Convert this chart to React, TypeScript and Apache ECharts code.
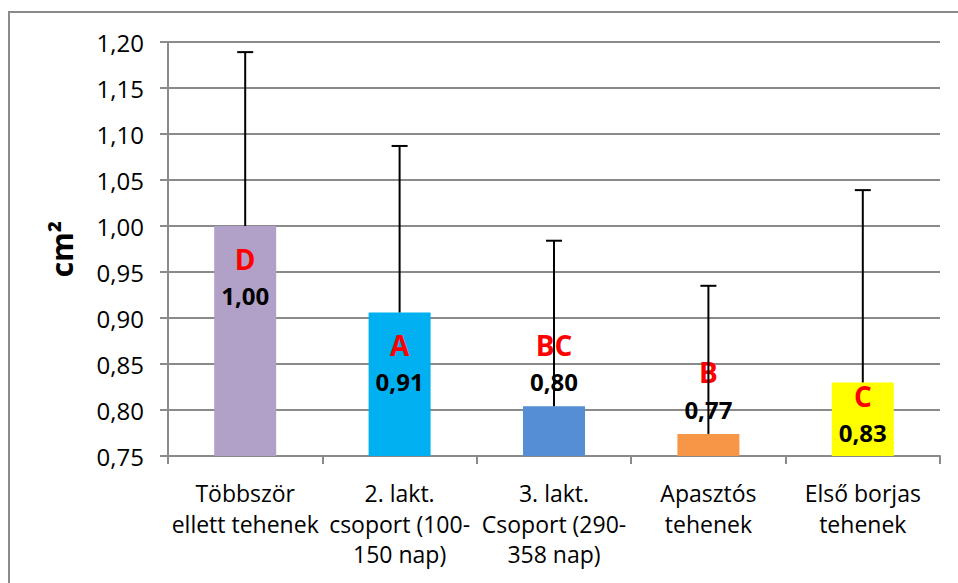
import React, { useEffect, useRef } from "react";
import * as echarts from "echarts";

const categories = [
  "Többször\nellett tehenek",
  "2. lakt.\ncsoport (100-\n150 nap)",
  "3. lakt.\nCsoport (290-\n358 nap)",
  "Apasztós\ntehenek",
  "Első borjas\ntehenek",
];
const values = [1.0, 0.906, 0.804, 0.774, 0.83];
const errorTops = [1.189, 1.087, 0.984, 0.935, 1.039];
const letters = ["D", "A", "BC", "B", "C"];
const valueLabels = ["1,00", "0,91", "0,80", "0,77", "0,83"];
const colors = ["#B1A0C7", "#00B0F0", "#558ED5", "#F79646", "#FFFF00"];
const labelAbove = [false, false, true, true, false];
const labelDistance = [14, 14, 6, 6, -5];

const FONT = "'Open Sans', sans-serif";

export default function App() {
  const ref = useRef<HTMLDivElement>(null);
  useEffect(() => {
    if (!ref.current) return;
    const chart = echarts.init(ref.current, null, { renderer: "svg" });
    const grey = "#8a8a8a";
    chart.setOption({
      animation: false,
      backgroundColor: "#fff",
      graphic: [
        {
          type: "rect",
          shape: { x: 9, y: 12, width: 970, height: 620 },
          style: { fill: "none", stroke: grey, lineWidth: 2 },
          silent: true,
        },
      ],
      grid: { left: 168, right: 18, top: 42, bottom: 127 },
      xAxis: {
        type: "category",
        data: categories,
        axisLine: { lineStyle: { color: grey, width: 2 } },
        axisTick: { show: true, length: 8, lineStyle: { color: grey, width: 2 } },
        axisLabel: {
          interval: 0,
          color: "#000",
          fontFamily: FONT,
          fontSize: 23,
          lineHeight: 30.5,
          margin: 22,
        },
      },
      yAxis: {
        type: "value",
        min: 0.75,
        max: 1.2,
        interval: 0.05,
        name: "cm²",
        nameLocation: "middle",
        nameRotate: 90,
        nameGap: 92,
        nameTextStyle: {
          color: "#000",
          fontFamily: FONT,
          fontSize: 30,
          fontWeight: "bold",
        },
        axisLine: { show: true, lineStyle: { color: grey, width: 2 } },
        axisTick: { show: true, length: 8, lineStyle: { color: grey, width: 2 } },
        splitLine: { lineStyle: { color: grey, width: 2 } },
        axisLabel: {
          color: "#000",
          fontFamily: FONT,
          fontSize: 24,
          margin: 24,
          formatter: (v: number) => v.toFixed(2).replace(".", ","),
        },
      },
      series: [
        {
          type: "bar",
          barWidth: 62,
          data: values.map((v, i) => ({
            value: v,
            itemStyle: { color: colors[i] },
            label: {
              show: true,
              position: labelAbove[i] ? "top" : "insideTop",
              distance: labelDistance[i],
              formatter: `{l|${letters[i]}}\n{v|${valueLabels[i]}}`,
              rich: {
                l: {
                  color: "#FF0000",
                  fontFamily: FONT,
                  fontWeight: "bold",
                  fontSize: 28,
                  lineHeight: 37,
                  align: "center",
                },
                v: {
                  color: "#000",
                  fontFamily: FONT,
                  fontWeight: "bold",
                  fontSize: 24,
                  lineHeight: 37,
                  align: "center",
                },
              },
            },
          })),
          z: 2,
        },
        {
          type: "custom",
          z: 10,
          data: values.map((v, i) => [i, v, errorTops[i]]),
          renderItem: (params: any, api: any) => {
            const x = api.value(0);
            const p0 = api.coord([x, api.value(1)]);
            const p1 = api.coord([x, api.value(2)]);
            const style = { stroke: "#000", lineWidth: 2 };
            return {
              type: "group",
              children: [
                {
                  type: "line",
                  shape: { x1: p0[0], y1: p0[1], x2: p1[0], y2: p1[1] },
                  style,
                },
                {
                  type: "line",
                  shape: { x1: p1[0] - 8, y1: p1[1], x2: p1[0] + 8, y2: p1[1] },
                  style,
                },
              ],
            };
          },
        },
      ],
    });
    return () => chart.dispose();
  }, []);
  return (
    <div
      ref={ref}
      style={{ position: "fixed", left: 0, top: 0, width: 958, height: 583 }}
    />
  );
}
